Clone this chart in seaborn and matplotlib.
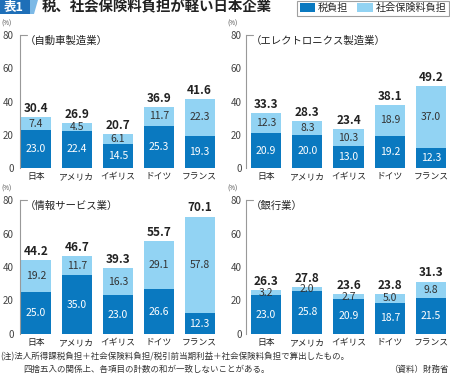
import matplotlib
matplotlib.use("Agg")
import matplotlib.pyplot as plt
from matplotlib.patches import Patch, Polygon, Rectangle
import seaborn as sns
import pandas as pd

# data
countries = ["日本", "アメリカ", "イギリス", "ドイツ", "フランス"]
panel_titles = ["（自動車製造業）", "（エレクトロニクス製造業）", "（情報サービス業）", "（銀行業）"]

tax_car = [23.0, 22.4, 14.5, 25.3, 19.3]
social_car = [7.4, 4.5, 6.1, 11.7, 22.3]
total_car = [30.4, 26.9, 20.7, 36.9, 41.6]

tax_elec = [20.9, 20.0, 13.0, 19.2, 12.3]
social_elec = [12.3, 8.3, 10.3, 18.9, 37.0]
total_elec = [33.3, 28.3, 23.4, 38.1, 49.2]

tax_it = [25.0, 35.0, 23.0, 26.6, 12.3]
social_it = [19.2, 11.7, 16.3, 29.1, 57.8]
total_it = [44.2, 46.7, 39.3, 55.7, 70.1]

tax_bank = [23.0, 25.8, 20.9, 18.7, 21.5]
social_bank = [3.2, 2.0, 2.7, 5.0, 9.8]
total_bank = [26.3, 27.8, 23.6, 23.8, 31.3]

yticks = [0, 20, 40, 60, 80]

DARK = "#0A79C0"
LIGHT = "#92D3F3"
TEXT = "#222222"

sns.set_style("white")
plt.rcParams["font.family"] = ["Noto Sans CJK JP", "DejaVu Sans"]

W, H = 450, 379
fig = plt.figure(figsize=(W / 100, H / 100), dpi=100)


def px_axes(left, right, top, bottom):
    return fig.add_axes([left / W, (H - bottom) / H, (right - left) / W, (bottom - top) / H])


# (left, right, top(80), bottom(0), xlim, ytick pad)
layout = [
    (20, 216, 35, 168, (-0.39, 4.40), 4.5),
    (246, 448, 35, 168, (-0.485, 4.41), 3.0),
    (20, 216, 200, 334, (-0.39, 4.40), 4.5),
    (246, 448, 200, 334, (-0.485, 4.41), 3.0),
]
panels = [
    (tax_car, social_car, total_car),
    (tax_elec, social_elec, total_elec),
    (tax_it, social_it, total_it),
    (tax_bank, social_bank, total_bank),
]

for (left, right, top, bottom, xlim, pad), (tax, social, total), title in zip(layout, panels, panel_titles):
    ax = px_axes(left, right, top, bottom)
    df = pd.DataFrame({"country": countries, "tax": tax, "social": social, "total": total})
    sns.barplot(data=df, x="country", y="total", color=LIGHT, width=0.73,
                saturation=1, linewidth=0, ax=ax)
    sns.barplot(data=df, x="country", y="tax", color=DARK, width=0.73,
                saturation=1, linewidth=0, ax=ax)

    for i, row in df.iterrows():
        ax.text(i, row["tax"] / 2, f"{row['tax']:.1f}", ha="center", va="center",
                color="white", fontsize=7.5)
        ax.text(i, row["tax"] + (row["total"] - row["tax"]) / 2, f"{row['social']:.1f}",
                ha="center", va="center", color="#333333", fontsize=7.5)
        ax.annotate(f"{row['total']:.1f}", (i, row["total"]), xytext=(0, 1.5),
                    textcoords="offset points", ha="center", va="bottom",
                    color=TEXT, fontsize=8.5, fontweight="bold")

    ax.set_ylim(0, 80)
    ax.set_xlim(*xlim)
    ax.set_yticks(yticks)
    ax.set_xlabel("")
    ax.set_ylabel("")
    for s in ["top", "right", "bottom"]:
        ax.spines[s].set_visible(False)
    ax.spines["left"].set_color("#999999")
    ax.spines["left"].set_linewidth(0.8)
    ax.tick_params(axis="y", length=0, pad=pad, labelsize=7, labelcolor="#444444")
    ax.tick_params(axis="x", length=0, pad=3, labelsize=6.3, labelcolor=TEXT)
    ax.plot([0, 0.035], [1, 1], transform=ax.transAxes, color="#999999", lw=0.8, clip_on=False)
    ax.text(0.025, 0.955, title, transform=ax.transAxes, ha="left", va="center",
            fontsize=7.5, color=TEXT)
    fig.text((left - 13) / W, (H - (top - 11)) / H, "(%)", ha="center", va="center",
             fontsize=4.5, color="#444444")

# title block
fig.add_artist(Rectangle((0, (H - 14) / H), 30 / W, 14 / H, transform=fig.transFigure,
                         facecolor="#1E6FB8", edgecolor="none"))
fig.add_artist(Polygon([(30 / W, 1), (38 / W, 1), (34 / W, (H - 14) / H), (30 / W, (H - 14) / H)],
                       transform=fig.transFigure, facecolor="#7CB9E6", edgecolor="none"))
fig.text(14 / W, (H - 7) / H, "表1", ha="center", va="center", color="white",
         fontsize=9, fontweight="bold")
fig.text(42 / W, (H - 7.5) / H, "税、社会保険料負担が軽い日本企業", ha="left", va="center",
         color=TEXT, fontsize=10.4, fontweight="bold")

# legend
handles = [Patch(facecolor=DARK, edgecolor="none", label="税負担"),
           Patch(facecolor=LIGHT, edgecolor="none", label="社会保険料負担")]
leg = fig.legend(handles=handles, loc="upper right", bbox_to_anchor=(449 / W, 1 - 0.5 / H),
                 ncol=2, fontsize=7.3, frameon=True, fancybox=False, edgecolor="#888888",
                 handlelength=1.5, handleheight=0.9, handletextpad=0.3, columnspacing=0.9,
                 borderpad=0.25, borderaxespad=0)
leg.get_frame().set_linewidth(0.8)

# footnotes
fig.text(0, (H - 357) / H, "(注)法人所得課税負担＋社会保険料負担/税引前当期利益＋社会保険料負担で算出したもの。",
         ha="left", va="center", fontsize=6.1, color="#333333")
fig.text(23 / W, (H - 369) / H, "四捨五入の関係上、各項目の計数の和が一致しないことがある。",
         ha="left", va="center", fontsize=6.1, color="#333333")
fig.text(449 / W, (H - 369) / H, "（資料）財務省", ha="right", va="center",
         fontsize=6.1, color="#333333")

fig.savefig("out.png", dpi=100)
